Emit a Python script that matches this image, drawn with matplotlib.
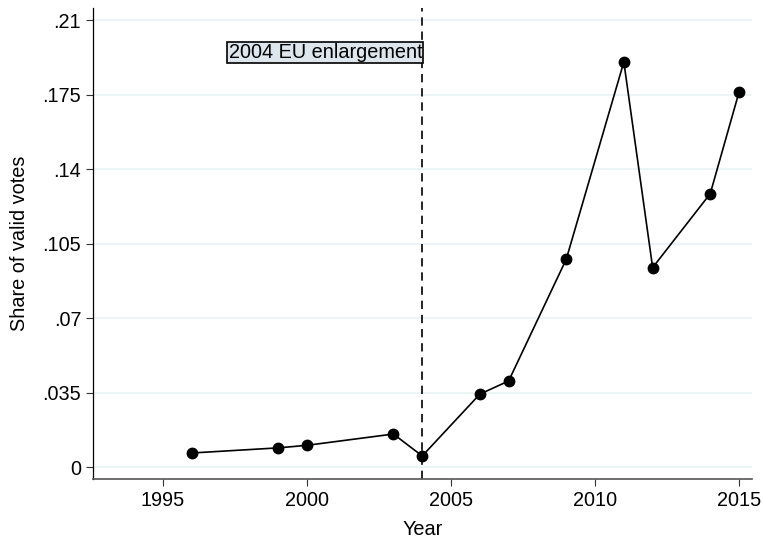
import matplotlib
matplotlib.use("Agg")
import matplotlib.pyplot as plt

plt.rcParams['font.family'] = ['Liberation Sans', 'DejaVu Sans']

# share of valid votes by election year
years = [1996, 1999, 2000, 2003, 2004, 2006, 2007, 2009, 2011, 2012, 2014, 2015]
share = [0.0068, 0.0092, 0.0104, 0.0157, 0.0054, 0.0344, 0.0406, 0.0977,
         0.1903, 0.0938, 0.1285, 0.1762]

xticks = [1995, 2000, 2005, 2010, 2015]
yticks = [0, 0.035, 0.07, 0.105, 0.14, 0.175, 0.21]
yticklabels = ['0', '.035', '.07', '.105', '.14', '.175', '.21']

event_year = 2004
event_label = '2004 EU enlargement'

fs = 14.3

fig = plt.figure(figsize=(7.63, 5.38), dpi=100)
ax = fig.add_axes([0.1219, 0.1097, 0.8637, 0.8753])

ax.plot(years, share, color='black', lw=1.2, marker='o', markersize=7.5, zorder=3)
ax.axvline(event_year, color='black', lw=1.2, ls=(0, (5, 3.5)), zorder=2)
ax.text(event_year, 0.1947, event_label, ha='right', va='center', fontsize=fs,
        bbox=dict(boxstyle='square,pad=0.06', facecolor='#dce6ec', edgecolor='black', lw=1.2),
        zorder=4)

ax.set_xlim(1992.57, 2015.45)
ax.set_ylim(-0.0054, 0.2156)
ax.set_xticks(xticks)
ax.set_yticks(yticks)
ax.set_yticklabels(yticklabels)
ax.tick_params(labelsize=fs, length=5, width=0.8, colors='#333333', labelcolor='black')
ax.grid(axis='y', color='#eaf2f3', lw=1.2, zorder=0)
ax.set_axisbelow(True)

for s in ['top', 'right']:
    ax.spines[s].set_visible(False)
ax.spines['left'].set_color('black')
ax.spines['bottom'].set_color('#555555')
ax.spines['left'].set_linewidth(0.9)
ax.spines['bottom'].set_linewidth(1.2)

ax.set_xlabel('Year', fontsize=fs, labelpad=7)
ax.set_ylabel('Share of valid votes', fontsize=fs, labelpad=10)

fig.savefig('out.png', dpi=100)
plt.close()
